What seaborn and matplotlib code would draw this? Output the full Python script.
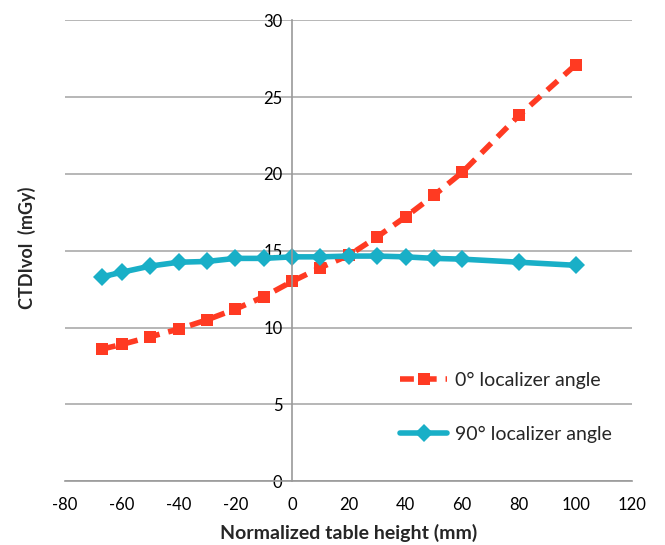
import pandas as pd
import matplotlib
matplotlib.use('Agg')
import matplotlib.pyplot as plt
import seaborn as sns

heights = [-67, -60, -50, -40, -30, -20, -10, 0, 10, 20, 30, 40, 50, 60, 80, 100]
ctdi_0deg = [8.6, 8.9, 9.4, 9.9, 10.5, 11.2, 12.0, 13.0, 13.9, 14.7, 15.9, 17.2, 18.6, 20.1, 23.8, 27.1]
ctdi_90deg = [13.3, 13.6, 14.0, 14.25, 14.3, 14.5, 14.5, 14.6, 14.6, 14.65, 14.65, 14.6, 14.5, 14.45, 14.25, 14.05]
x_ticks = list(range(-80, 121, 20))
y_ticks = list(range(0, 31, 5))

df = pd.DataFrame({'height': heights, 'zero': ctdi_0deg, 'ninety': ctdi_90deg})

sns.set_style('white')
plt.rcParams['font.family'] = ['Lato', 'DejaVu Sans']
plt.rcParams['axes.unicode_minus'] = False

fig, ax = plt.subplots(figsize=(6.65, 5.45), dpi=100)
fig.subplots_adjust(left=0.098, right=0.951, top=0.963, bottom=0.117)

red = '#FF3A22'
cyan = '#19AFC7'
sns.lineplot(data=df, x='height', y='zero', ax=ax, color=red, lw=4, marker='s', markersize=8,
             markeredgewidth=0, dashes=False, linestyle=(0, (2.5, 1.6)), label='0° localizer angle')
sns.lineplot(data=df, x='height', y='ninety', ax=ax, color=cyan, lw=4, marker='D', markersize=9,
             markeredgewidth=0, label='90° localizer angle')

ax.set_xlim(-80, 120)
ax.set_ylim(0, 30)
ax.set_xticks(x_ticks)
ax.set_yticks(y_ticks)
ax.yaxis.grid(True, color='#AAAAAA', lw=1.2)
ax.set_axisbelow(True)

for s in ['top', 'right']:
    ax.spines[s].set_visible(False)
ax.spines['left'].set_position(('data', 0))
ax.spines['left'].set_color('#999999')
ax.spines['bottom'].set_color('#999999')
ax.spines['left'].set_linewidth(1.2)
ax.spines['bottom'].set_linewidth(1.2)
ax.tick_params(axis='both', colors='#999999', length=5, width=1.2, direction='out',
               labelcolor='black', labelsize=12)
ax.tick_params(axis='x', pad=6)
ax.tick_params(axis='y', pad=2)

ax.set_xlabel('Normalized table height (mm)', fontsize=14, fontweight='bold', labelpad=8)
ax.set_ylabel('')
fig.text(0.04, 0.545, 'CTDIvol  (mGy)', rotation=90, fontsize=13, fontweight='bold',
         ha='center', va='center')

ax.legend(loc='lower left', bbox_to_anchor=(0.56, 0.045), frameon=False, fontsize=14,
          labelspacing=1.9, handlelength=2.4, handletextpad=0.4)

fig.savefig('out.png', dpi=100)
